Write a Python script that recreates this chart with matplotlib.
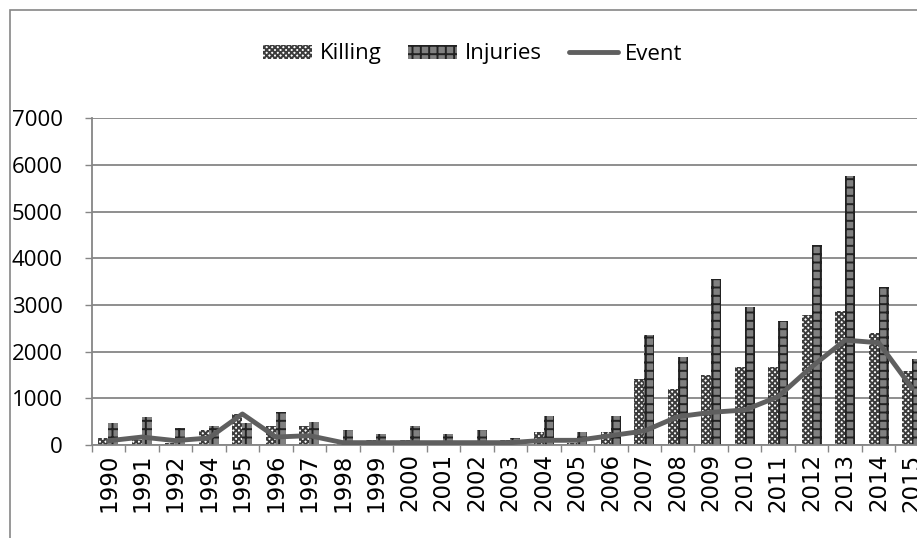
import matplotlib
matplotlib.use("Agg")
import matplotlib.pyplot as plt
from matplotlib.patches import Rectangle
import numpy as np

years = ['1990', '1991', '1992', '1994', '1995', '1996', '1997', '1998', '1999',
         '2000', '2001', '2002', '2003', '2004', '2005', '2006', '2007', '2008',
         '2009', '2010', '2011', '2012', '2013', '2014', '2015']
killing = [150, 100, 40, 320, 665, 415, 415, 30, 107, 107, 20, 20, 107, 285, 50,
           285, 1407, 1200, 1500, 1677, 1677, 2784, 2877, 2405, 1591]
injuries = [480, 590, 357, 415, 480, 715, 500, 322, 236, 415, 236, 322, 150, 630,
            286, 630, 2355, 1877, 3555, 2955, 2655, 4283, 5775, 3383, 1842]
event = [90, 170, 93, 150, 665, 170, 200, 50, 50, 50, 50, 50, 50, 100, 100, 200,
         300, 606, 700, 750, 1035, 1677, 2248, 2191, 1214]

plt.rcParams['hatch.linewidth'] = 1.4
grey = '#868686'

fig = plt.figure(figsize=(9.17, 5.38), dpi=100)
ax = fig.add_axes([0.100, 0.1729, 0.913, 0.607])

x = np.arange(len(years))
w = 0.3
b1 = ax.bar(x - w / 2, killing, w, color='white', edgecolor='#3c3c3c', linewidth=0,
            hatch='xxxxxx', label='Killing', zorder=2)
b2 = ax.bar(x + w / 2, injuries, w, color='#808080', edgecolor='#222222', linewidth=0,
            hatch='++', label='Injuries', zorder=2)
ln, = ax.plot(x, event, color='#5f5f5f', linewidth=3.5, solid_capstyle='round',
              label='Event', zorder=3)

ax.set_xlim(-0.5, len(years) - 0.5)
ax.set_ylim(0, 7000)
ax.set_yticks(range(0, 7001, 1000))
ax.set_yticklabels([str(v) for v in range(0, 7001, 1000)], fontsize=16,
                   family='Open Sans')
ax.set_xticks(x)
ax.set_xticklabels(years, rotation=90, fontsize=16.5, family='DejaVu Sans')
ax.set_xticks(np.arange(-0.5, len(years), 1), minor=True)
ax.tick_params(axis='x', which='major', length=0, pad=6)
ax.tick_params(axis='x', which='minor', length=5, color=grey, width=1)
ax.tick_params(axis='y', length=5, color=grey, width=1, pad=16)

ax.grid(axis='y', color=grey, linewidth=1.3, zorder=0)
ax.set_axisbelow(True)
for s in ['top', 'right']:
    ax.spines[s].set_visible(False)
for s in ['left', 'bottom']:
    ax.spines[s].set_color(grey)
    ax.spines[s].set_linewidth(1.3)

fig.legend(handles=[b1, b2, ln], labels=['Killing', 'Injuries', 'Event'],
           loc='center', bbox_to_anchor=(473 / 917, 1 - 54 / 538), ncol=3,
           frameon=False, prop={'family': 'Open Sans', 'size': 16},
           handlelength=2.2, handleheight=0.6, handletextpad=0.35,
           columnspacing=1.2)

fig.add_artist(Rectangle((10 / 917, -0.5), 2, 1.5 - 10 / 538, transform=fig.transFigure,
                         fill=False, edgecolor=grey, linewidth=1.2))

fig.savefig('out.png', dpi=100)
